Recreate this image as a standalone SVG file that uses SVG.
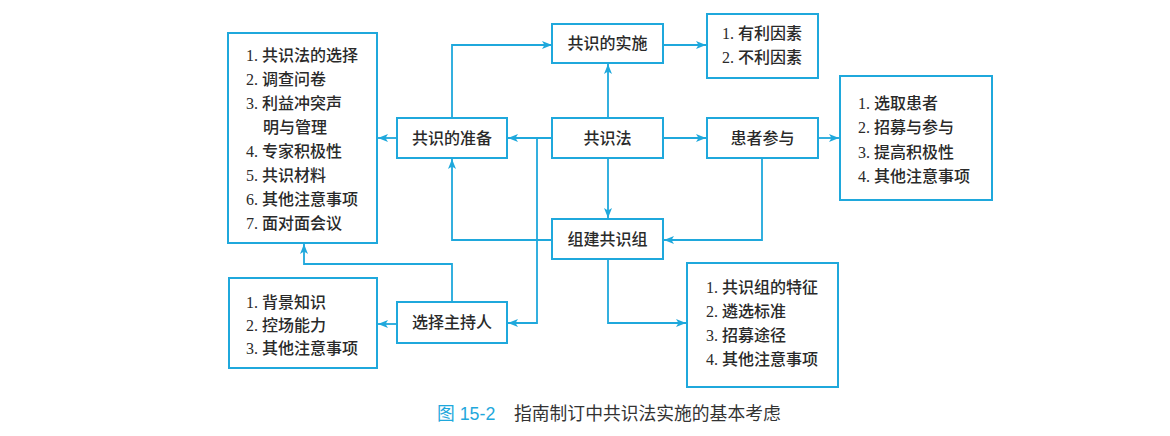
<svg xmlns="http://www.w3.org/2000/svg" width="1170" height="436" viewBox="0 0 1170 436">
<style>
.box{fill:#fff;stroke:#1fa8dc;stroke-width:2}
.ln{fill:none;stroke:#1fa8dc;stroke-width:1.8}
.t{font-family:"Liberation Serif","Noto Sans CJK SC",serif;font-size:16px;font-weight:500;fill:#2a2a2a;dominant-baseline:central}
.c{text-anchor:middle}
.cap{font-family:"Liberation Sans","Noto Sans CJK SC",sans-serif;font-size:17.8px;dominant-baseline:central}
</style>
<defs>
<marker id="ah" viewBox="0 0 10 8" refX="10" refY="4" markerWidth="10" markerHeight="8" markerUnits="userSpaceOnUse" orient="auto">
<path d="M0,0 L10,4 L0,8 L2.5,4 Z" fill="#1fa8dc"/>
</marker>
</defs>
<rect width="1170" height="436" fill="#fff"/>
<g id="connectors">
<path class="ln" d="M452,118 V45 H552" marker-end="url(#ah)"/>
<path class="ln" d="M663,45 H706" marker-end="url(#ah)"/>
<path class="ln" d="M608,118 V64" marker-end="url(#ah)"/>
<path class="ln" d="M663,138 H706" marker-end="url(#ah)"/>
<path class="ln" d="M818,138 H839" marker-end="url(#ah)"/>
<path class="ln" d="M608,158 V218" marker-end="url(#ah)"/>
<path class="ln" d="M762,158 V240 H664" marker-end="url(#ah)"/>
<path class="ln" d="M608,259 V323 H686" marker-end="url(#ah)"/>
<path class="ln" d="M552,240 H452 V159" marker-end="url(#ah)"/>
<path class="ln" d="M552,138 H508" marker-end="url(#ah)"/>
<path class="ln" d="M537,138 V323 H508" marker-end="url(#ah)"/>
<path class="ln" d="M397,138 H378" marker-end="url(#ah)"/>
<path class="ln" d="M452,302 V264 H304 V244" marker-end="url(#ah)"/>
<path class="ln" d="M397,324 H378" marker-end="url(#ah)"/>
</g>
<g id="prep-list">
<rect class="box" x="228" y="33" width="149" height="210"/>
<text class="t" x="246" y="55">1. 共识法的选择</text>
<text class="t" x="246" y="79">2. 调查问卷</text>
<text class="t" x="246" y="103">3. 利益冲突声</text>
<text class="t" x="263" y="127">明与管理</text>
<text class="t" x="246" y="151">4. 专家积极性</text>
<text class="t" x="246" y="175">5. 共识材料</text>
<text class="t" x="246" y="199">6. 其他注意事项</text>
<text class="t" x="246" y="223">7. 面对面会议</text>
</g>
<g id="prep">
<rect class="box" x="397" y="118" width="110" height="40"/>
<text class="t c" x="452" y="138">共识的准备</text>
</g>
<g id="impl">
<rect class="box" x="552" y="24" width="111" height="39"/>
<text class="t c" x="607.5" y="43.5">共识的实施</text>
</g>
<g id="factors">
<rect class="box" x="707" y="14" width="111" height="64"/>
<text class="t" x="722" y="33">1. 有利因素</text>
<text class="t" x="722" y="57">2. 不利因素</text>
</g>
<g id="method">
<rect class="box" x="552" y="118" width="111" height="40"/>
<text class="t c" x="607.5" y="138">共识法</text>
</g>
<g id="patient">
<rect class="box" x="707" y="118" width="111" height="40"/>
<text class="t c" x="762.5" y="138">患者参与</text>
</g>
<g id="patient-list">
<rect class="box" x="840" y="76" width="152" height="124"/>
<text class="t" x="858" y="103">1. 选取患者</text>
<text class="t" x="858" y="127">2. 招募与参与</text>
<text class="t" x="858" y="152">3. 提高积极性</text>
<text class="t" x="858" y="176">4. 其他注意事项</text>
</g>
<g id="group">
<rect class="box" x="552" y="219" width="111" height="40"/>
<text class="t c" x="607.5" y="239">组建共识组</text>
</g>
<g id="group-list">
<rect class="box" x="687" y="263" width="151" height="124"/>
<text class="t" x="706" y="287">1. 共识组的特征</text>
<text class="t" x="706" y="311">2. 遴选标准</text>
<text class="t" x="706" y="335">3. 招募途径</text>
<text class="t" x="706" y="359">4. 其他注意事项</text>
</g>
<g id="host">
<rect class="box" x="397" y="302" width="110" height="41"/>
<text class="t c" x="452" y="322.5">选择主持人</text>
</g>
<g id="host-list">
<rect class="box" x="229" y="278" width="148" height="90"/>
<text class="t" x="246" y="302">1. 背景知识</text>
<text class="t" x="246" y="325">2. 控场能力</text>
<text class="t" x="246" y="348">3. 其他注意事项</text>
</g>
<g id="caption">
<text class="cap" x="437" y="414" fill="#1fa8dc">图 15-2</text>
<text class="cap" x="514" y="414" fill="#333">指南制订中共识法实施的基本考虑</text>
</g>
</svg>
